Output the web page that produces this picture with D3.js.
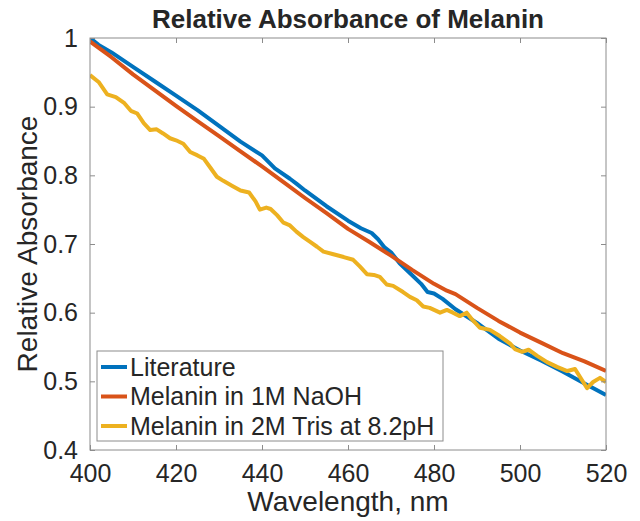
<!DOCTYPE html>
<html>
<head>
<meta charset="utf-8">
<script src="https://cdn.jsdelivr.net/npm/d3@7"></script>
<style>
  body { margin: 0; background: #fff; }
  text { font-family: "Liberation Sans", Arial, Helvetica, sans-serif; fill: #262626; }
</style>
</head>
<body>
<div id="container"></div>
<script>
// wavelengths (nm) and relative absorbance
const litWl = [400, 402, 405, 410, 415, 420, 425, 430, 435, 440, 443, 446.5, 448, 450, 455, 460, 463, 465.5, 467, 468.5, 470, 472, 474.5, 477, 478.5, 480, 482, 485, 490, 495, 500, 505, 510, 515, 520];
const litVal = [1.0, 0.99, 0.979, 0.958, 0.937, 0.916, 0.895, 0.872, 0.849, 0.829, 0.81, 0.795, 0.788, 0.778, 0.755, 0.734, 0.723, 0.716, 0.707, 0.695, 0.688, 0.672, 0.657, 0.642, 0.630, 0.628, 0.62, 0.605, 0.585, 0.562, 0.545, 0.53, 0.514, 0.497, 0.48];

const naohWl = [400, 405, 410, 415, 420, 425, 430, 435, 440, 445, 450, 455, 460, 465, 470, 475, 480, 483, 485, 490, 495, 500, 505, 510, 515, 520];
const naohVal = [0.995, 0.972, 0.947, 0.924, 0.901, 0.879, 0.857, 0.835, 0.813, 0.79, 0.767, 0.745, 0.722, 0.703, 0.683, 0.662, 0.642, 0.632, 0.627, 0.607, 0.588, 0.571, 0.556, 0.541, 0.529, 0.515];

const trisWl = [400, 402, 404, 406, 408, 409.5, 411, 412.5, 414, 415.5, 417, 418.6, 420, 421.7, 423.3, 425, 426.5, 428, 429.5, 431, 433, 435, 437, 438.5, 439.5, 441, 442, 443.5, 445, 446.5, 448, 449.6, 451.2, 452.8, 454.3, 456.6, 459, 461.2, 462.8, 464.4, 466, 467.4, 469, 470.5, 472.8, 474.4, 476, 477.5, 479, 481.4, 483, 484.4, 486, 487.6, 489, 490.7, 493, 495.3, 497.7, 498.8, 500.5, 502, 504, 506.3, 508.6, 511, 512.8, 514.4, 515.6, 517, 518.6, 520];
const trisVal = [0.946, 0.936, 0.918, 0.914, 0.905, 0.894, 0.890, 0.876, 0.866, 0.867, 0.861, 0.854, 0.851, 0.846, 0.834, 0.829, 0.824, 0.811, 0.798, 0.792, 0.785, 0.778, 0.775, 0.762, 0.750, 0.753, 0.751, 0.742, 0.731, 0.727, 0.718, 0.710, 0.703, 0.696, 0.689, 0.685, 0.681, 0.677, 0.667, 0.656, 0.655, 0.652, 0.641, 0.639, 0.630, 0.623, 0.618, 0.609, 0.607, 0.600, 0.604, 0.600, 0.595, 0.600, 0.589, 0.578, 0.575, 0.566, 0.555, 0.547, 0.543, 0.546, 0.537, 0.528, 0.521, 0.515, 0.518, 0.502, 0.490, 0.499, 0.505, 0.499];

const seriesNames = ['Literature', 'Melanin in 1M NaOH', 'Melanin in 2M Tris at 8.2pH'];
const seriesColors = ['#0072BD', '#D95319', '#EDB120'];
const xTicks = [400, 420, 440, 460, 480, 500, 520];
const yTicks = [0.4, 0.5, 0.6, 0.7, 0.8, 0.9, 1];

const width = 640, height = 521;
const margin = { top: 38, right: 34, bottom: 71, left: 90 };
const innerW = width - margin.left - margin.right;
const innerH = height - margin.top - margin.bottom;

const series = [
    { name: seriesNames[0], color: seriesColors[0], pts: litWl.map((w, i) => [w, litVal[i]]) },
    { name: seriesNames[1], color: seriesColors[1], pts: naohWl.map((w, i) => [w, naohVal[i]]) },
    { name: seriesNames[2], color: seriesColors[2], pts: trisWl.map((w, i) => [w, trisVal[i]]) }
];

const svg = d3.select('#container').append('svg')
    .attr('width', width)
    .attr('height', height);

const g = svg.append('g')
    .attr('transform', `translate(${margin.left},${margin.top})`);

const x = d3.scaleLinear().domain([400, 520]).range([0, innerW]);
const y = d3.scaleLinear().domain([0.4, 1]).range([innerH, 0]);

g.append('clipPath').attr('id', 'clip')
    .append('rect').attr('width', innerW).attr('height', innerH);

// data lines
const line = d3.line().x(d => x(d[0])).y(d => y(d[1]));
g.append('g').attr('clip-path', 'url(#clip)')
    .selectAll('path')
    .data(series)
    .join('path')
    .attr('d', d => line(d.pts))
    .attr('fill', 'none')
    .attr('stroke', d => d.color)
    .attr('stroke-width', 4)
    .attr('stroke-linejoin', 'round');

// axes, matlab style: ticks inward on all four sides
const axisColor = '#8c8c8c';
function styleAxis(sel, showText) {
    sel.select('.domain').remove();
    sel.selectAll('.tick line').attr('stroke', axisColor).attr('stroke-width', 1);
    sel.selectAll('.tick text')
        .style('font-size', '25px')
        .attr('fill', '#262626')
        .style('display', showText ? null : 'none');
}

g.append('g').attr('transform', `translate(0,${innerH})`)
    .call(d3.axisBottom(x).tickValues(xTicks).tickSize(-5).tickPadding(14).tickFormat(d3.format('d')))
    .call(s => styleAxis(s, true));
g.append('g')
    .call(d3.axisTop(x).tickValues(xTicks).tickSize(-5))
    .call(s => styleAxis(s, false));
g.append('g')
    .call(d3.axisLeft(y).tickValues(yTicks).tickSize(-5).tickPadding(12).tickFormat(d => d === 1 ? '1' : d3.format('.1f')(d)))
    .call(s => styleAxis(s, true));
g.append('g').attr('transform', `translate(${innerW},0)`)
    .call(d3.axisRight(y).tickValues(yTicks).tickSize(-5))
    .call(s => styleAxis(s, false));

g.append('rect')
    .attr('width', innerW).attr('height', innerH)
    .attr('fill', 'none')
    .attr('stroke', axisColor)
    .attr('stroke-width', 1);

// legend
const legend = svg.append('g').attr('transform', 'translate(97,351)');
legend.append('rect')
    .attr('width', 346).attr('height', 90)
    .attr('fill', '#fff')
    .attr('stroke', axisColor)
    .attr('stroke-width', 1);
const items = legend.selectAll('g.item')
    .data(series)
    .join('g')
    .attr('class', 'item')
    .attr('transform', (d, i) => `translate(0,${16 + i * 29.5})`);
items.append('line')
    .attr('x1', 4).attr('x2', 30)
    .attr('stroke', d => d.color)
    .attr('stroke-width', 4);
items.append('text')
    .attr('x', 33).attr('dy', '0.35em')
    .style('font-size', '25px')
    .attr('fill', '#000')
    .text(d => d.name);

// title and axis labels
svg.append('text')
    .attr('x', margin.left + innerW / 2).attr('y', 28)
    .attr('text-anchor', 'middle')
    .style('font-size', '26px').style('font-weight', 'bold')
    .attr('fill', '#000')
    .text('Relative Absorbance of Melanin');
svg.append('text')
    .attr('x', margin.left + innerW / 2).attr('y', 511)
    .attr('text-anchor', 'middle')
    .style('font-size', '28px')
    .text('Wavelength, nm');
svg.append('text')
    .attr('transform', `translate(37,${margin.top + innerH / 2}) rotate(-90)`)
    .attr('text-anchor', 'middle')
    .style('font-size', '28px')
    .text('Relative Absorbance');
</script>
</body>
</html>
